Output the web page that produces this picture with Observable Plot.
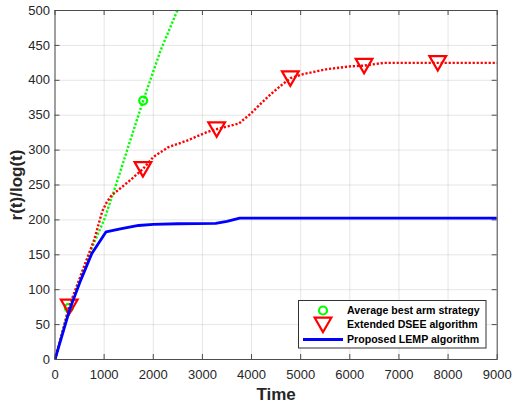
<!DOCTYPE html>
<html>
<head>
<meta charset="utf-8">
<script src="https://cdn.jsdelivr.net/npm/d3@7"></script>
<script src="https://cdn.jsdelivr.net/npm/@observablehq/plot@0.6"></script>
<style>
  html, body { margin: 0; padding: 0; background: #fff; }
  #wrap { position: relative; width: 515px; height: 404px; }
  #legend { position: absolute; left: 298px; top: 300px; }
</style>
</head>
<body>
<div id="wrap"></div>
<script>
// ---- data ----
const xTicks = [0, 1000, 2000, 3000, 4000, 5000, 6000, 7000, 8000, 9000];
const yTicks = [0, 50, 100, 150, 200, 250, 300, 350, 400, 450, 500];

const greenTime = [0, 281, 720, 1000, 1250, 1500, 1795, 2150, 2490];
const greenVal  = [0, 74, 155, 200, 252, 307, 371, 443, 500];
const greenMarkTime = [281, 1795];
const greenMarkVal  = [74, 371];

const redTime = [0, 290, 600, 800, 960, 1050, 1150, 1500, 1790, 2000, 2300, 2700, 3100, 3290, 3740, 3980, 4180, 4390, 4590, 4790, 5060, 5540, 6010, 6290, 6690, 7790, 9000];
const redVal  = [0, 76, 135, 172, 212, 225, 235, 255, 273, 290, 304, 314, 326, 330, 338, 352, 366, 380, 392, 403, 409, 416, 420, 421, 425, 425, 425];
const redMarkTime = [290, 1790, 3290, 4790, 6290, 7790];
const redMarkVal  = [76, 273, 330, 403, 421, 425];

const blueTime = [0, 300, 520, 750, 1040, 1330, 1700, 2000, 2500, 3270, 3500, 3760, 9000];
const blueVal  = [0, 72, 113, 152, 183, 187, 192, 193.5, 194.5, 195, 198, 202.5, 202.5];

const seriesNames = ["Average best arm strategy", "Extended DSEE algorithm", "Proposed LEMP algorithm"];

// ---- build tables ----
const zip = (xs, ys) => xs.map((x, i) => ({x, y: ys[i]}));
const green = zip(greenTime, greenVal);
const greenM = zip(greenMarkTime, greenMarkVal);
const red = zip(redTime, redVal);
const redM = zip(redMarkTime, redMarkVal);
const blue = zip(blueTime, blueVal);

const W = 515, H = 404;
const mL = 54.5, mR = 18.3, mT = 10, mB = 45;
const innerH = H - mT - mB;
const innerW = W - mL - mR;
const axisColor = "#4d4d4d";
const font = "'Liberation Sans', Arial, Helvetica, sans-serif";
const fmt = d3.format("d");

const chart = Plot.plot({
  width: W, height: H,
  marginLeft: mL, marginRight: mR, marginTop: mT, marginBottom: mB,
  style: {fontFamily: font, fontSize: "13px", color: "#262626", background: "white"},
  x: {domain: [0, 9000]},
  y: {domain: [0, 500]},
  marks: [
    Plot.gridX(xTicks, {stroke: "#000", strokeOpacity: 0.1, strokeWidth: 1}),
    Plot.gridY(yTicks, {stroke: "#000", strokeOpacity: 0.1, strokeWidth: 1}),
    Plot.tickX(xTicks, {x: d => d, insetTop: innerH - 5, stroke: axisColor}),
    Plot.tickX(xTicks, {x: d => d, insetBottom: innerH - 5, stroke: axisColor}),
    Plot.tickY(yTicks, {y: d => d, insetRight: innerW - 5, stroke: axisColor}),
    Plot.tickY(yTicks, {y: d => d, insetLeft: innerW - 5, stroke: axisColor}),
    Plot.axisX(xTicks, {tickSize: 0, tickPadding: 10, label: null, tickFormat: fmt, fill: "#262626"}),
    Plot.axisY(yTicks, {tickSize: 0, tickPadding: 5, label: null, tickFormat: fmt, fill: "#262626"}),
    Plot.line(green, {x: "x", y: "y", stroke: "#00ff00", strokeWidth: 2.4, strokeDasharray: "2.2,1.8", strokeLinecap: "butt", clip: true}),
    Plot.dot(greenM, {x: "x", y: "y", r: 4, stroke: "#00ff00", strokeWidth: 2.2, fill: "none"}),
    Plot.line(red, {x: "x", y: "y", stroke: "#ff0000", strokeWidth: 2.4, strokeDasharray: "2.2,1.8", strokeLinecap: "butt", clip: true}),
    Plot.dot(redM, {x: "x", y: "y", r: 6.2, symbol: "triangle", rotate: 180, dy: -2, stroke: "#ff0000", strokeWidth: 2.2, fill: "none"}),
    Plot.line(blue, {x: "x", y: "y", stroke: "#0000ff", strokeWidth: 2.8, clip: true}),
    Plot.frame({stroke: axisColor, strokeWidth: 1}),
    Plot.text(["Time"], {text: d => d, frameAnchor: "bottom", dy: 35, lineAnchor: "middle", fontSize: 17, fontWeight: "bold", fill: "#262626"}),
    Plot.text(["r(t)/log(t)"], {text: d => d, frameAnchor: "left", dx: -38, rotate: -90, lineAnchor: "middle", textAnchor: "middle", fontSize: 17, fontWeight: "bold", fill: "#262626"})
  ]
});
document.getElementById("wrap").appendChild(chart);

// ---- legend (inside plot area, lower right) ----
const lg = d3.select("#wrap").append("svg")
  .attr("id", "legend")
  .attr("width", 189).attr("height", 49)
  .style("font-family", font);
lg.append("rect").attr("x", 0.5).attr("y", 0.5).attr("width", 187.5).attr("height", 47.5)
  .attr("fill", "white").attr("stroke", "#333").attr("stroke-width", 1);
const rowsY = [10.5, 24.5, 39.5];
lg.append("circle").attr("cx", 25).attr("cy", rowsY[0]).attr("r", 4)
  .attr("fill", "none").attr("stroke", "#00ff00").attr("stroke-width", 2.2);
lg.append("path").attr("d", d3.symbol(d3.symbolTriangle, Math.PI * 6.2 * 6.2)())
  .attr("transform", `translate(25,${rowsY[1] - 2}) rotate(180)`)
  .attr("fill", "none").attr("stroke", "#ff0000").attr("stroke-width", 2.2);
lg.append("line").attr("x1", 5).attr("x2", 45).attr("y1", rowsY[2]).attr("y2", rowsY[2])
  .attr("stroke", "#0000ff").attr("stroke-width", 2.8);
lg.selectAll("text.lab").data(seriesNames).join("text")
  .attr("class", "lab")
  .attr("x", 49).attr("y", (d, i) => rowsY[i]).attr("dy", "0.35em")
  .attr("font-size", 10.6).attr("font-weight", "bold").attr("fill", "#000")
  .text(d => d);
</script>
</body>
</html>
